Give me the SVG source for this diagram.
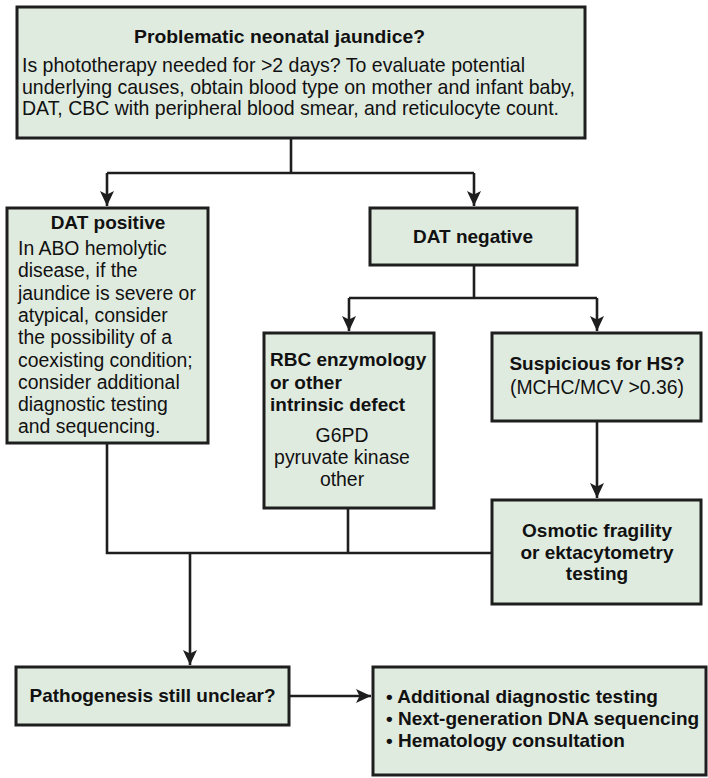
<svg xmlns="http://www.w3.org/2000/svg" width="708" height="778" viewBox="0 0 708 778">
<style>
.box{fill:#e0ebe0;stroke:#1e1e1e;stroke-width:3}
.ln{fill:none;stroke:#1e1e1e;stroke-width:2.6}
text{font-family:"Liberation Sans",Arial,Helvetica,sans-serif;fill:#111}
.b{font-weight:bold;font-size:19px}
.r{font-size:19.4px}
.t{font-size:20.4px}
.c{text-anchor:middle}
</style>
<defs>
<marker id="ah" markerUnits="userSpaceOnUse" markerWidth="16" markerHeight="14" refX="15" refY="7" orient="auto">
<path d="M0,0 L15,7 L0,14 L3.5,7 Z" fill="#1e1e1e"/>
</marker>
</defs>
<rect width="708" height="778" fill="#ffffff"/>
<g id="connectors">
<path class="ln" d="M291,138 V173 M107,173 H474"/>
<path class="ln" d="M107,173 V206" marker-end="url(#ah)"/>
<path class="ln" d="M474,173 V206" marker-end="url(#ah)"/>
<path class="ln" d="M474,265 V298 M349,298 H597"/>
<path class="ln" d="M349,298 V331" marker-end="url(#ah)"/>
<path class="ln" d="M597,298 V331" marker-end="url(#ah)"/>
<path class="ln" d="M597,421 V498" marker-end="url(#ah)"/>
<path class="ln" d="M107,443 V553 H492 M348,508 V553"/>
<path class="ln" d="M190,553 V665" marker-end="url(#ah)"/>
<path class="ln" d="M289,696 H371" marker-end="url(#ah)"/>
</g>
<g id="start">
<rect class="box" x="17" y="7" width="568" height="131"/>
<text class="b" x="134" y="43" textLength="291" lengthAdjust="spacingAndGlyphs">Problematic neonatal jaundice?</text>
<text class="t" x="22" y="72" textLength="503" lengthAdjust="spacingAndGlyphs">Is phototherapy needed for &gt;2 days? To evaluate potential</text>
<text class="t" x="22" y="93.5" textLength="553" lengthAdjust="spacingAndGlyphs">underlying causes, obtain blood type on mother and infant baby,</text>
<text class="t" x="22" y="115" textLength="537" lengthAdjust="spacingAndGlyphs">DAT, CBC with peripheral blood smear, and reticulocyte count.</text>
</g>
<g id="dat-positive">
<rect class="box" x="7" y="208" width="201" height="235"/>
<text class="b c" x="108" y="229">DAT positive</text>
<text class="r" x="18" y="255">In ABO hemolytic</text>
<text class="r" x="18" y="277.3">disease, if the</text>
<text class="r" x="18" y="299.6">jaundice is severe or</text>
<text class="r" x="18" y="321.9">atypical, consider</text>
<text class="r" x="18" y="344.2">the possibility of a</text>
<text class="r" x="18" y="366.5">coexisting condition;</text>
<text class="r" x="18" y="388.8">consider additional</text>
<text class="r" x="18" y="411.1">diagnostic testing</text>
<text class="r" x="18" y="433.4">and sequencing.</text>
</g>
<g id="dat-negative">
<rect class="box" x="370" y="208" width="207" height="57"/>
<text class="b c" x="473" y="243">DAT negative</text>
</g>
<g id="rbc">
<rect class="box" x="264" y="333" width="170" height="175"/>
<text class="b" x="270" y="366">RBC enzymology</text>
<text class="b" x="270" y="388.5">or other</text>
<text class="b" x="270" y="411">intrinsic defect</text>
<text class="r c" x="342" y="442">G6PD</text>
<text class="r c" x="342" y="464">pyruvate kinase</text>
<text class="r c" x="342" y="486">other</text>
</g>
<g id="hs">
<rect class="box" x="492" y="333" width="209" height="88"/>
<text class="b c" x="597" y="370">Suspicious for HS?</text>
<text class="r c" x="597" y="394">(MCHC/MCV &gt;0.36)</text>
</g>
<g id="osmotic">
<rect class="box" x="492" y="500" width="209" height="104"/>
<text class="b c" x="597" y="537">Osmotic fragility</text>
<text class="b c" x="597" y="558.5">or ektacytometry</text>
<text class="b c" x="597" y="580">testing</text>
</g>
<g id="unclear">
<rect class="box" x="16" y="667" width="273" height="58"/>
<text class="b c" x="152.5" y="702">Pathogenesis still unclear?</text>
</g>
<g id="next">
<rect class="box" x="373" y="667" width="333" height="108"/>
<text class="b" x="386" y="703">• Additional diagnostic testing</text>
<text class="b" x="386" y="725">• Next-generation DNA sequencing</text>
<text class="b" x="386" y="747">• Hematology consultation</text>
</g>
</svg>
